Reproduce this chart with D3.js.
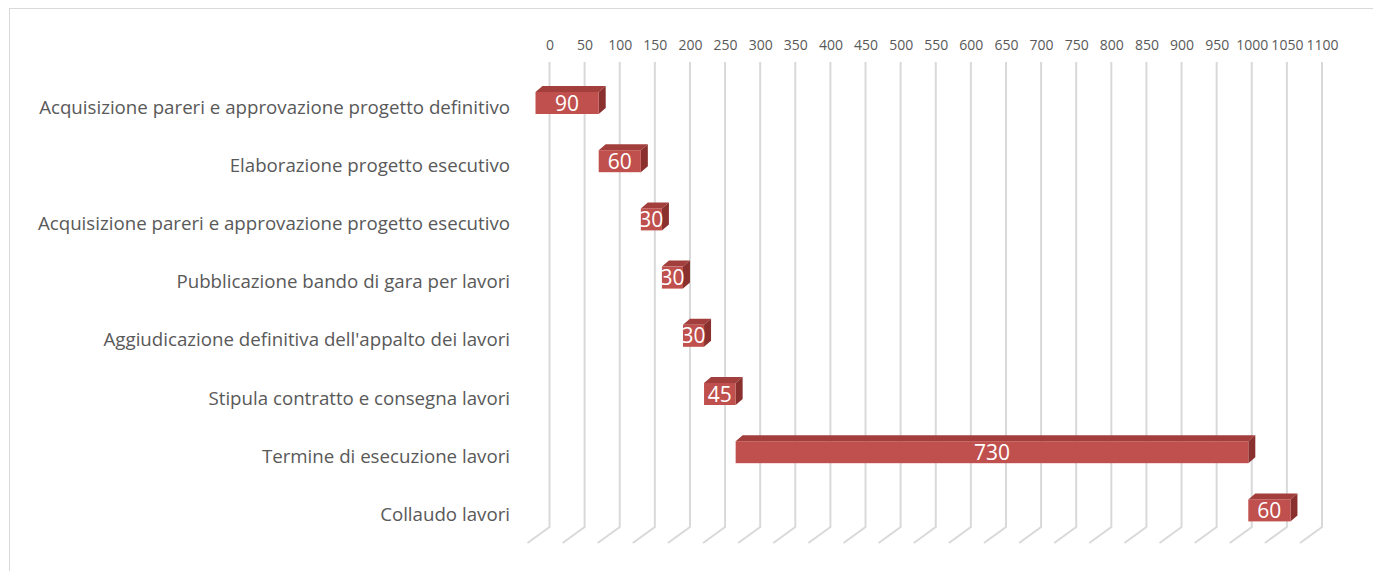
<!DOCTYPE html>
<html>
<head>
<meta charset="utf-8">
<script src="https://cdn.jsdelivr.net/npm/d3@7"></script>
<style>
  body { margin: 0; background: #fff; }
  svg { display: block; }
</style>
</head>
<body>
<div id="chart"></div>
<script>
// Data
const categories = [
  'Acquisizione pareri e approvazione progetto definitivo',
  'Elaborazione progetto esecutivo',
  'Acquisizione pareri e approvazione progetto esecutivo',
  'Pubblicazione bando di gara per lavori',
  "Aggiudicazione definitiva dell'appalto dei lavori",
  'Stipula contratto e consegna lavori',
  'Termine di esecuzione lavori',
  'Collaudo lavori'
]
const startDays = [0, 90, 150, 180, 210, 240, 285, 1015]
const durations = [90, 60, 30, 30, 30, 45, 730, 60]
const xTicks = d3.range(0, 1101, 50)

const dataset = categories.map((c, i) => ({ task: c, start: startDays[i], dur: durations[i] }))

// Dimensions
const width = 1373
const height = 571
const wallTop = 62
const wallBottom = 527
const floor = { dx: -22, dy: 16 }
const depth = { dx: 7, dy: -6 }
const shift = -14 // front face offset from the back wall
const barH = 22

const svg = d3.select('#chart')
  .append('svg')
  .attr('width', width)
  .attr('height', height)

// chart frame
svg.append('rect')
  .attr('x', 9.5)
  .attr('y', 8.5)
  .attr('width', 1400)
  .attr('height', 600)
  .attr('fill', 'none')
  .attr('stroke', '#d9d9d9')

// Scales
const xScale = d3.scaleLinear()
  .domain([0, 1100])
  .range([549.5, 1322])

const yScale = d3.scaleBand()
  .domain(categories)
  .range([88, 88 + 58.2 * 8])
  .paddingInner(0)

const rowFront = d => yScale(d.task) + 4

// Gridlines (wall + floor)
svg.append('g')
  .selectAll('path')
  .data(xTicks)
  .join('path')
  .attr('d', d => {
    const x = xScale(d)
    return `M${x},${wallTop}V${wallBottom}l${floor.dx},${floor.dy}`
  })
  .attr('fill', 'none')
  .attr('stroke', '#d9d9d9')
  .attr('stroke-width', 2)

// Top axis labels
const xAxis = d3.axisTop(xScale)
  .tickValues(xTicks)
  .tickSize(0)
  .tickPadding(0)
  .tickFormat(d3.format('d'))

const xAxisGroup = svg.append('g')
  .attr('transform', 'translate(0,50)')
  .call(xAxis)

xAxisGroup.select('.domain').remove()
xAxisGroup.selectAll('text')
  .attr('font-family', 'Open Sans, sans-serif')
  .attr('font-size', 14)
  .attr('fill', '#595959')
  .attr('dy', 0)

// Category labels
svg.append('g')
  .selectAll('text')
  .data(dataset)
  .join('text')
  .attr('x', 510)
  .attr('y', d => rowFront(d) + barH / 2 + 10.5)
  .attr('text-anchor', 'end')
  .attr('font-family', 'Open Sans, sans-serif')
  .attr('font-size', 18.7)
  .attr('fill', '#595959')
  .text(d => d.task)

// Bars
const bars = svg.append('g')
  .selectAll('g')
  .data(dataset)
  .join('g')

// top face
bars.append('path')
  .attr('d', d => {
    const x0 = xScale(d.start) + shift
    const x1 = xScale(d.start + d.dur) + shift
    const y = rowFront(d)
    return `M${x0},${y}L${x0 + depth.dx},${y + depth.dy}L${x1 + depth.dx},${y + depth.dy}L${x1},${y}Z`
  })
  .attr('fill', '#a23f3c')

// side face
bars.append('path')
  .attr('d', d => {
    const x1 = xScale(d.start + d.dur) + shift
    const y = rowFront(d)
    return `M${x1},${y}L${x1 + depth.dx},${y + depth.dy}L${x1 + depth.dx},${y + depth.dy + barH}L${x1},${y + barH}Z`
  })
  .attr('fill', '#8a302e')

// front face
bars.append('rect')
  .attr('x', d => xScale(d.start) + shift)
  .attr('y', d => rowFront(d))
  .attr('width', d => xScale(d.start + d.dur) - xScale(d.start))
  .attr('height', barH)
  .attr('fill', '#c0504d')

// value labels
bars.append('text')
  .attr('x', d => (xScale(d.start) + xScale(d.start + d.dur)) / 2 + shift)
  .attr('y', d => rowFront(d) + barH / 2 + 7.5)
  .attr('text-anchor', 'middle')
  .attr('font-family', 'Open Sans, sans-serif')
  .attr('font-size', 21)
  .attr('fill', '#ffffff')
  .text(d => d.dur)
</script>
</body>
</html>
